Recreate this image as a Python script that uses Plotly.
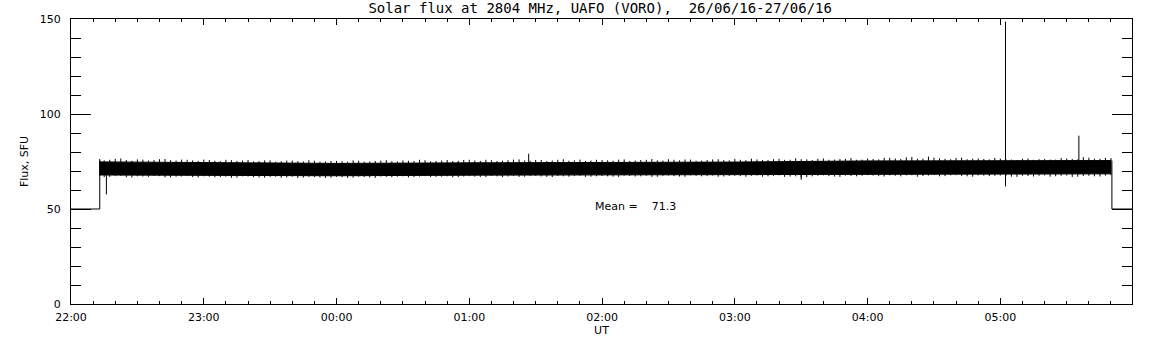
import pandas as pd
import plotly.graph_objects as go

D1 = "2016-06-26 "
D2 = "2016-06-27 "

# Solid core of the noisy flux band (SFU)
core_times = [D1 + "22:13", D1 + "23:00", D2 + "00:00", D2 + "01:00", D2 + "02:00",
              D2 + "03:00", D2 + "04:00", D2 + "05:00", D2 + "05:50"]
core_upper = [74.8, 74.4, 74.0, 74.3, 74.5, 74.7, 75.3, 75.2, 75.5]
core_lower = [67.9, 67.7, 67.5, 67.8, 68.0, 68.2, 68.5, 68.4, 68.5]

# Noise fringe sampling grids (every 5 minutes, two interleaved sets)
fringe_times = [pd.Timestamp(D1 + "22:13")] + list(
    pd.date_range(D1 + "22:15", D2 + "05:50", freq="5min"))
fringe_times2 = list(pd.date_range(D1 + "22:17:30", D2 + "05:47:30", freq="5min"))

# Tips of the noise fringe above / below the core (SFU)
fringe_upper = [
    76.3, 75.6, 76.4, 75.8, 76.1, 75.5, 76.2, 75.7, 76.0, 75.6,
    76.0, 75.4, 75.9, 75.3, 75.8, 75.2, 75.6, 75.1, 75.5, 75.0, 75.4, 75.0,
    75.3, 74.9, 75.4, 75.0, 75.5, 75.1, 75.6, 75.2, 75.7, 75.3, 75.8, 75.4,
    75.9, 75.3, 75.7, 75.4, 76.0, 75.5, 75.8, 75.3, 75.9, 75.4, 76.0, 75.5,
    75.8, 75.4, 76.1, 75.5, 75.9, 75.6, 76.2, 75.6, 76.0, 75.5, 76.1, 75.7,
    76.3, 75.7, 76.1, 75.8, 76.4, 75.9, 76.2, 75.8, 76.6, 76.0, 76.4, 75.9,
    76.5, 76.1, 76.9, 76.3, 77.4, 76.5, 77.0, 76.4, 76.8, 76.2, 76.6, 76.1,
    76.5, 76.0, 76.4, 75.9, 76.3, 76.0, 76.6, 76.1, 77.0, 76.4, 76.8,
]
fringe_lower = [
    67.4, 66.8, 67.3, 66.7, 67.2, 66.9, 67.3, 66.6, 67.1, 66.8,
    67.2, 66.7, 67.0, 66.5, 67.1, 66.6, 66.9, 66.4, 67.0, 66.5, 66.8, 66.4,
    66.9, 66.4, 67.0, 66.6, 67.1, 66.7, 67.2, 66.8, 67.3, 66.9, 67.2, 66.8,
    67.3, 66.9, 67.4, 66.8, 67.3, 67.0, 67.5, 66.9, 67.4, 67.0, 67.5, 67.0,
    67.4, 67.0, 67.6, 67.1, 67.5, 67.0, 67.6, 67.1, 67.7, 67.2, 67.6, 67.1,
    67.5, 67.0, 67.6, 67.2, 67.7, 67.1, 66.6, 67.2, 67.7, 67.1, 67.6, 67.2,
    67.8, 67.3, 67.7, 67.2, 67.8, 67.4, 67.9, 67.3, 67.8, 67.2, 67.7, 67.3,
    67.6, 67.0, 67.5, 67.1, 67.7, 67.2, 67.6, 67.0, 67.5, 67.1, 67.8,
]
fringe_upper2 = [
    75.9, 76.6, 75.4, 76.0, 75.7, 76.3, 75.5, 75.9, 75.3,
    75.8, 75.2, 75.7, 75.5, 75.1, 75.6, 74.9, 75.5, 75.2, 75.7, 74.9, 75.3,
    75.1, 75.6, 74.9, 75.3, 75.7, 75.0, 75.4, 75.9, 75.1, 75.5, 75.2, 75.8,
    75.5, 75.9, 75.2, 75.7, 76.1, 75.4, 75.8, 75.5, 76.2, 75.6, 75.3, 75.9,
    75.6, 76.0, 75.3, 75.8, 76.3, 75.5, 75.9, 76.1, 75.4, 75.8, 76.2, 75.6,
    75.9, 76.5, 75.8, 76.2, 75.9, 76.7, 76.1, 76.4, 75.9, 76.3, 76.8, 76.0,
    76.3, 76.9, 76.6, 77.2, 76.4, 77.6, 76.7, 76.2, 77.0, 76.5, 76.3, 76.9,
    76.2, 75.8, 76.6, 76.2, 76.0, 76.8, 76.3, 77.3, 76.5, 76.9,
]
fringe_lower2 = [
    66.9, 67.5, 66.6, 67.1, 67.4, 66.7, 67.0, 67.3, 66.6,
    67.0, 66.8, 66.4, 67.2, 66.7, 66.5, 67.0, 66.6, 66.3, 66.9, 66.6, 66.5,
    66.7, 66.5, 66.8, 66.4, 66.9, 67.0, 66.6, 67.1, 66.8, 67.0, 66.7, 67.1,
    67.0, 66.8, 67.2, 67.1, 66.9, 67.3, 67.1, 66.8, 67.2, 67.3, 66.9, 67.2,
    67.2, 66.9, 67.4, 67.2, 66.9, 67.5, 67.3, 67.0, 67.5, 67.3, 67.0, 67.4,
    67.3, 67.5, 67.0, 67.4, 66.9, 67.2, 66.8, 67.5, 67.3, 66.9, 67.4, 67.5,
    67.6, 67.1, 67.5, 67.7, 67.0, 67.6, 67.2, 67.7, 67.4, 67.0, 67.6, 67.5,
    67.3, 66.9, 67.4, 67.5, 67.0, 67.5, 66.9, 67.4, 67.2, 67.6,
]

# Baseline (no data) segments
base_start_t = [D1 + "22:00", D1 + "22:13", D1 + "22:13"]
base_start_v = [50, 50, 75.5]
base_end_t = [D2 + "05:50:25", D2 + "05:50:25", D2 + "06:00"]
base_end_v = [75.5, 50, 50]

# Isolated spikes: time, low end, high end
spike_t = [D1 + "22:16", D2 + "01:26:50", D2 + "03:30", D2 + "05:02:20", D2 + "05:35:30"]
spike_lo = [57.7, 72.0, 65.4, 61.9, 74.0]
spike_hi = [70.0, 79.1, 70.0, 148.6, 88.6]

mean_value = 71.3
title = "Solar flux at 2804 MHz, UAFO (VORO),&nbsp;&nbsp;26/06/16-27/06/16"

black = "#000000"
fig = go.Figure()
fig.add_trace(go.Scatter(x=core_times, y=core_lower, mode="lines",
                         line=dict(color=black, width=1), showlegend=False))
fig.add_trace(go.Scatter(x=core_times, y=core_upper, mode="lines",
                         fill="tonexty", fillcolor=black,
                         line=dict(color=black, width=1), showlegend=False))
fx, fy = [], []
for times, ups, lows in ((fringe_times, fringe_upper, fringe_lower),
                         (fringe_times2, fringe_upper2, fringe_lower2)):
    for t, hi, lo in zip(times, ups, lows):
        fx += [t, t, None]
        fy += [lo, hi, None]
fig.add_trace(go.Scatter(x=fx, y=fy, mode="lines", line=dict(color=black, width=1),
                         showlegend=False, connectgaps=False))
fig.add_trace(go.Scatter(x=base_start_t, y=base_start_v, mode="lines",
                         line=dict(color=black, width=1), showlegend=False))
fig.add_trace(go.Scatter(x=base_end_t, y=base_end_v, mode="lines",
                         line=dict(color=black, width=1), showlegend=False))
sx, sy = [], []
for t, lo, hi in zip(spike_t, spike_lo, spike_hi):
    sx += [t, t, None]
    sy += [lo, hi, None]
fig.add_trace(go.Scatter(x=sx, y=sy, mode="lines", line=dict(color=black, width=1),
                         showlegend=False, connectgaps=False))

fig.add_annotation(x=D2 + "01:56", y=51.2, xref="x", yref="y", xanchor="left", yanchor="middle",
                   text="Mean =&nbsp;&nbsp;&nbsp;&nbsp;" + f"{mean_value:.1f}", showarrow=False,
                   font=dict(family="DejaVu Sans", size=11, color=black))

fig.update_layout(
    width=1152, height=345,
    margin=dict(l=71, r=20, t=19, b=41),
    paper_bgcolor="white", plot_bgcolor="white",
    title=dict(text=title, x=0.521, xanchor="center", xref="container",
               y=0.99, yanchor="top", yref="container",
               font=dict(family="DejaVu Sans Mono", size=14, color=black)),
    font=dict(family="DejaVu Sans", size=11, color=black),
    xaxis=dict(type="date", range=[D1 + "22:00", D2 + "05:59:30"], automargin=False,
               tickformat="%H:%M", dtick=3600000, tick0=D1 + "22:00",
               ticks="inside", ticklen=6, tickcolor=black, mirror="ticks",
               showline=True, linecolor=black, linewidth=1, showgrid=False, zeroline=False,
               ticklabelstandoff=3,
               minor=dict(dtick=600000, ticks="inside", ticklen=3, tickcolor=black, showgrid=False),
               title=dict(text="UT", standoff=0, font=dict(size=11))),
    yaxis=dict(range=[0, 150], dtick=50, ticks="inside", ticklen=20, tickcolor=black,
               mirror="ticks", showline=True, linecolor=black, linewidth=1, automargin=False,
               showgrid=False, zeroline=False, ticklabelstandoff=7,
               minor=dict(dtick=10, ticks="inside", ticklen=10, tickcolor=black, showgrid=False),
               title=dict(text="Flux, SFU", standoff=8, font=dict(size=11))),
)

fig.write_html("out.html", config={"displayModeBar": False},
               post_script="document.body.style.margin='0px';")
